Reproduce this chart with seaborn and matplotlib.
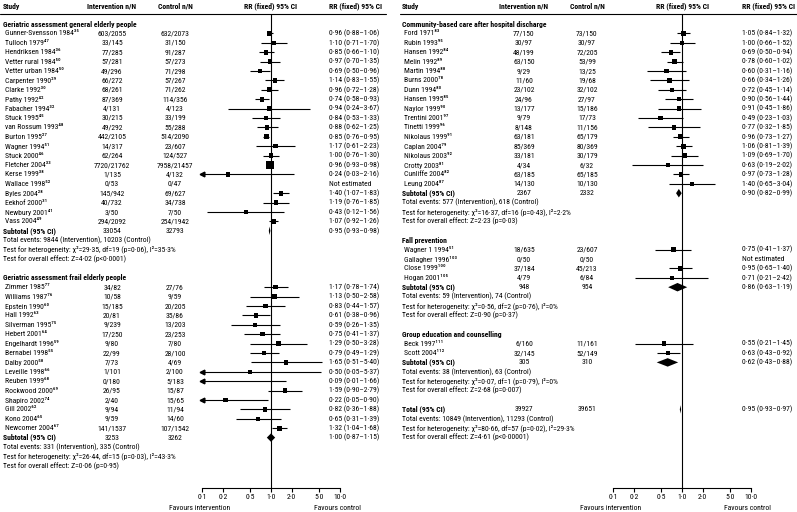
#!/usr/bin/env python3
"""Forest plot: RR (fixed) for complex interventions, two panels."""

import matplotlib

matplotlib.use("Agg")
import matplotlib.pyplot as plt
import matplotlib.transforms as mtransforms
import numpy as np
import pandas as pd
import seaborn as sns
from matplotlib import font_manager
from matplotlib.lines import Line2D
from matplotlib.ticker import NullLocator

NA = np.nan

# ---- Geriatric assessment general elderly people
GEN_NAMES = ["Gunner-Svensson 1984³⁵", "Tulloch 1979⁴⁷", "Hendriksen 1984³⁶", "Vetter rural 1984⁵⁰",
             "Vetter urban 1984⁵⁰", "Carpenter 1990²⁹", "Clarke 1992³⁰", "Pathy 1992⁴²", "Fabacher 1994³²",
             "Stuck 1995⁴⁵", "van Rossum 1993⁴⁸", "Burton 1995²⁷", "Wagner 1994⁵¹", "Stuck 2000⁴⁶",
             "Fletcher 2004³³", "Kerse 1999³⁸", "Wallace 1998⁵²", "Byles 2004²⁸", "Eekhof 2000³¹",
             "Newbury 2001⁴¹", "Vass 2004⁴⁹"]
GEN_INT = ["603/2055", "33/145", "77/285", "57/281", "49/296", "66/272", "68/261", "87/369", "4/131",
           "30/215", "49/292", "442/2105", "14/317", "62/264", "7720/21762", "1/135", "0/53", "145/942",
           "40/732", "3/50", "294/2092"]
GEN_CTL = ["632/2073", "31/150", "91/287", "57/273", "71/298", "57/267", "71/262", "114/356", "4/123",
           "33/199", "55/288", "514/2090", "23/607", "124/527", "7958/21457", "4/132", "0/47", "69/627",
           "34/738", "7/50", "254/1942"]
GEN_RR = [0.96, 1.10, 0.85, 0.97, 0.69, 1.14, 0.96, 0.74, 0.94, 0.84, 0.88, 0.85, 1.17, 1.00, 0.96, 0.24,
          NA, 1.40, 1.19, 0.43, 1.07]
GEN_LO = [0.88, 0.71, 0.66, 0.70, 0.50, 0.83, 0.72, 0.58, 0.24, 0.53, 0.62, 0.76, 0.61, 0.76, 0.93, 0.03,
          NA, 1.07, 0.76, 0.12, 0.92]
GEN_HI = [1.06, 1.70, 1.10, 1.35, 0.96, 1.55, 1.28, 0.93, 3.67, 1.33, 1.25, 0.95, 2.23, 1.30, 0.98, 2.16,
          NA, 1.83, 1.85, 1.56, 1.26]
GEN_SUB = ["33054", "32793", 0.95, 0.93, 0.98]
GEN_NOTES = ["Total events: 9844 (Intervention), 10203 (Control)",
             "Test for heterogeneity: χ²=29·35, df=19 (p=0·06), I²=35·3%",
             "Test for overall effect: Z=4·02 (p<0·0001)"]

# ---- Geriatric assessment frail elderly people
FRAIL_NAMES = ["Zimmer 1985⁷⁷", "Williams 1987⁷⁶", "Epstein 1990⁶⁰", "Hall 1992⁶³", "Silverman 1995⁷⁵",
               "Hebert 2001⁶⁴", "Engelhardt 1996⁵⁹", "Bernabei 1998⁵⁵", "Dalby 2000⁵⁸", "Leveille 1998⁶⁶",
               "Reuben 1999⁶⁸", "Rockwood 2000⁶⁹", "Shapiro 2002⁷⁴", "Gill 2002⁶²", "Kono 2004⁶⁵",
               "Newcomer 2004⁶⁷"]
FRAIL_INT = ["34/82", "10/58", "15/185", "20/81", "9/239", "17/250", "9/80", "22/99", "7/73", "1/101",
             "0/180", "26/95", "2/40", "9/94", "9/59", "141/1537"]
FRAIL_CTL = ["27/76", "9/59", "20/205", "35/86", "13/203", "23/253", "7/80", "28/100", "4/69", "2/100",
             "5/183", "15/87", "15/65", "11/94", "14/60", "107/1542"]
FRAIL_RR = [1.17, 1.13, 0.83, 0.61, 0.59, 0.75, 1.29, 0.79, 1.65, 0.50, 0.09, 1.59, 0.22, 0.82, 0.65, 1.32]
FRAIL_LO = [0.78, 0.50, 0.44, 0.38, 0.26, 0.41, 0.50, 0.49, 0.51, 0.05, 0.01, 0.90, 0.05, 0.36, 0.31, 1.04]
FRAIL_HI = [1.74, 2.58, 1.57, 0.96, 1.35, 1.37, 3.28, 1.29, 5.40, 5.37, 1.66, 2.79, 0.90, 1.88, 1.39, 1.68]
FRAIL_SUB = ["3253", "3262", 1.00, 0.87, 1.15]
FRAIL_NOTES = ["Total events: 331 (Intervention), 335 (Control)",
               "Test for heterogeneity: χ²=26·44, df=15 (p=0·03), I²=43·3%",
               "Test for overall effect: Z=0·06 (p=0·95)"]

# ---- Community-based care after hospital discharge
COMM_NAMES = ["Ford 1971⁸³", "Rubin 1993⁹⁵", "Hansen 1992⁸⁴", "Melin 1992⁸⁹", "Martin 1994⁸⁸",
              "Burns 2000⁷⁸", "Dunn 1994⁸⁰", "Hansen 1995⁸⁵", "Naylor 1999⁹⁰", "Trentini 2001⁹⁷",
              "Tinetti 1999⁹⁶", "Nikolaus 1999⁹¹", "Caplan 2004⁷⁹", "Nikolaus 2003⁹²", "Crotty 2003⁸¹",
              "Cunliffe 2004⁸²", "Leung 2004⁸⁷"]
COMM_INT = ["77/150", "30/97", "48/199", "63/150", "9/29", "11/60", "23/102", "24/96", "13/177", "9/79",
            "8/148", "63/181", "85/369", "33/181", "4/34", "63/185", "14/130"]
COMM_CTL = ["73/150", "30/97", "72/205", "53/99", "13/25", "19/68", "32/102", "27/97", "15/186", "17/73",
            "11/156", "65/179", "80/369", "30/179", "6/32", "65/185", "10/130"]
COMM_RR = [1.05, 1.00, 0.69, 0.78, 0.60, 0.66, 0.72, 0.90, 0.91, 0.49, 0.77, 0.96, 1.06, 1.09, 0.63, 0.97, 1.40]
COMM_LO = [0.84, 0.66, 0.50, 0.60, 0.31, 0.34, 0.45, 0.56, 0.45, 0.23, 0.32, 0.73, 0.81, 0.69, 0.19, 0.73, 0.65]
COMM_HI = [1.32, 1.52, 0.94, 1.02, 1.16, 1.26, 1.14, 1.44, 1.86, 1.03, 1.85, 1.27, 1.39, 1.70, 2.02, 1.28, 3.04]
COMM_SUB = ["2367", "2332", 0.90, 0.82, 0.99]
COMM_NOTES = ["Total events: 577 (Intervention), 618 (Control)",
              "Test for heterogeneity: χ²=16·37, df=16 (p=0·43), I²=2·2%",
              "Test for overall effect: Z=2·23 (p=0·03)"]

# ---- Fall prevention
FALL_NAMES = ["Wagner 1 1994⁵¹", "Gallagher 1996¹⁰³", "Close 1999¹⁰⁰", "Hogan 2001¹⁰⁵"]
FALL_INT = ["18/635", "0/50", "37/184", "4/79"]
FALL_CTL = ["23/607", "0/50", "45/213", "6/84"]
FALL_RR = [0.75, NA, 0.95, 0.71]
FALL_LO = [0.41, NA, 0.65, 0.21]
FALL_HI = [1.37, NA, 1.40, 2.42]
FALL_SUB = ["948", "954", 0.86, 0.63, 1.19]
FALL_NOTES = ["Total events: 59 (Intervention), 74 (Control)",
              "Test for heterogeneity: χ²=0·56, df=2 (p=0·76), I²=0%",
              "Test for overall effect: Z=0·90 (p=0·37)"]

# ---- Group education and counselling
EDU_NAMES = ["Beck 1997¹¹¹", "Scott 2004¹¹²"]
EDU_INT = ["6/160", "32/145"]
EDU_CTL = ["11/161", "52/149"]
EDU_RR = [0.55, 0.63]
EDU_LO = [0.21, 0.43]
EDU_HI = [1.45, 0.92]
EDU_SUB = ["305", "310", 0.62, 0.43, 0.88]
EDU_NOTES = ["Total events: 38 (Intervention), 63 (Control)",
             "Test for heterogeneity: χ²=0·07, df=1 (p=0·79), I²=0%",
             "Test for overall effect: Z=2·68 (p=0·007)"]

TOTAL = ["39927", "39651", 0.95, 0.93, 0.97]
TOTAL_NOTES = ["Total events: 10849 (Intervention), 11293 (Control)",
               "Test for heterogeneity: χ²=80·66, df=57 (p=0·02), I²=29·3%",
               "Test for overall effect: Z=4·61 (p<0·00001)"]

TICKS = [0.1, 0.2, 0.5, 1, 2, 5, 10]
TICK_LABELS = ["0·1", "0·2", "0·5", "1·0", "2·0", "5·0", "10·0"]

# ---- layout (pixels)
W, H = 797, 512
ROW0, STEP = 24.0, 9.4
AX_TOP, AX_BOT = 14, 488
LEFT = dict(x0=3, name=5, int=112, ctl=175, one=271, rr=329, line=(0, 386))
RIGHT = dict(x0=402, name=404, int=524, ctl=587, one=682, rr=742, line=(400, 797))


def pick_font():
    # a condensed face is closest to the original; fall back to a smaller regular one
    entries = font_manager.fontManager.ttflist
    names = {f.name for f in entries}
    for name, size in [("Liberation Sans Narrow", 5.7), ("Roboto Condensed", 5.5),
                       ("Noto Sans Condensed", 5.4), ("Open Sans Condensed", 5.4)]:
        if name in names:
            return name, "normal", size
    for f in entries:
        if f.name == "Noto Sans" and f.stretch == "condensed":
            return "Noto Sans", "condensed", 5.4
    return "Liberation Sans", "normal", 5.3


FONT, STRETCH, FS = pick_font()

sns.set_theme(style="white")
plt.rcParams["font.family"] = [FONT, "DejaVu Sans"]
plt.rcParams["font.stretch"] = STRETCH
plt.rcParams.update({"text.color": "black", "xtick.color": "black", "axes.edgecolor": "black"})

fig = plt.figure(figsize=(W / 100, H / 100), dpi=100)


def fmt(v):
    return f"{v:.2f}".replace(".", "·")


def rr_text(v, lo, hi):
    if np.isnan(v):
        return "Not estimated"
    return f"{fmt(v)} ({fmt(lo)}–{fmt(hi)})"


def px_row(p):
    return (p - ROW0) / STEP


def events(s):
    return int(s.split("/")[0])


def make_panel(pos):
    ax = fig.add_axes([(pos["one"] - 69) / W, 1 - AX_BOT / H, 138 / W, (AX_BOT - AX_TOP) / H])
    ax.set_xscale("log")
    for side in ("left", "right", "top"):
        ax.spines[side].set_visible(False)
    ax.spines["bottom"].set_linewidth(0.8)
    ax.axvline(1, color="black", lw=0.8, zorder=1)
    ax.set_facecolor("none")

    def txt(x, y, s, **kw):
        tr = mtransforms.blended_transform_factory(fig.transFigure, ax.transData)
        ax.text(x / W, y, s, transform=tr, fontsize=FS, va="center", clip_on=False, **kw)

    # header
    fy = 1 - 6 / H
    fig.text(pos["x0"] / W, fy, "Study", fontsize=FS, fontweight="bold", va="center")
    fig.text(pos["int"] / W, fy, "Intervention n/N", fontsize=FS, fontweight="bold", va="center", ha="center")
    fig.text(pos["ctl"] / W, fy, "Control n/N", fontsize=FS, fontweight="bold", va="center", ha="center")
    fig.text(pos["one"] / W, fy, "RR (fixed) 95% CI", fontsize=FS, fontweight="bold", va="center", ha="center")
    fig.text(pos["rr"] / W, fy, "RR (fixed) 95% CI", fontsize=FS, fontweight="bold", va="center")
    x0, x1 = pos["line"]
    fig.add_artist(Line2D([x0 / W, x1 / W], [1 - AX_TOP / H] * 2, color="black", lw=0.8))
    fig.text((pos["one"] - 71) / W, 1 - 508 / H, "Favours intervention", fontsize=FS, ha="center", va="center")
    fig.text((pos["one"] + 66) / W, 1 - 508 / H, "Favours control", fontsize=FS, ha="center", va="center")
    return ax, txt


def diamond(ax, row, est, lo, hi, h=0.45):
    ax.fill([lo, est, hi, est], [row, row - h, row, row + h], color="black", lw=0, zorder=4)


def summary(ax, txt, pos, row, label, sub, notes):
    txt(pos["x0"], row, label, fontweight="bold")
    txt(pos["int"], row, sub[0], ha="center")
    txt(pos["ctl"], row, sub[1], ha="center")
    txt(pos["rr"], row, rr_text(*sub[2:]))
    diamond(ax, row, *sub[2:])
    for i, note in enumerate(notes):
        txt(pos["x0"], row + 1 + i, note)


def group(ax, txt, pos, row, title, names, n_int, n_ctl, rr, lo, hi, sub, notes):
    txt(pos["x0"], row, title, fontweight="bold")
    rows = row + 1 + np.arange(len(names))
    for r, name, a, b, v, l, h in zip(rows, names, n_int, n_ctl, rr, lo, hi):
        txt(pos["name"], r, name)
        txt(pos["int"], r, a, ha="center")
        txt(pos["ctl"], r, b, ha="center")
        txt(pos["rr"], r, rr_text(v, l, h))
    df = pd.DataFrame({
        "rr": rr, "lo": lo, "hi": hi, "row": rows,
        "ev": [events(a) + events(b) for a, b in zip(n_int, n_ctl)],
    }).dropna()
    # square side grows with the number of events (study weight)
    side = (4.3 + 0.03 * np.sqrt(df["ev"].to_numpy())) * 0.72
    ax.hlines(df["row"], df["lo"].clip(lower=0.1), df["hi"].clip(upper=10), color="black", lw=0.8, zorder=2)
    sns.scatterplot(data=df, x="rr", y="row", marker="s", s=side ** 2, color="black",
                    linewidth=0, ax=ax, legend=False, zorder=3)
    cut = df[df["lo"] < 0.1]
    ax.plot(np.full(len(cut), 0.1), cut["row"], "<", ms=3.4, color="black", clip_on=False, zorder=3)
    srow = rows[-1] + 1
    summary(ax, txt, pos, srow, "Subtotal (95% CI)", sub, notes)
    return srow + 5


def finish(ax):
    ax.set_xlim(0.1, 10)
    ax.set_ylim(px_row(AX_BOT), px_row(AX_TOP))
    ax.set_xticks(TICKS)
    ax.set_xticklabels(TICK_LABELS)
    ax.xaxis.set_minor_locator(NullLocator())
    ax.set_yticks([])
    ax.set_xlabel("")
    ax.set_ylabel("")
    ax.tick_params(axis="x", bottom=True, direction="out", length=3, width=0.8, labelsize=FS, pad=1.5)


ax_l, txt_l = make_panel(LEFT)
r = group(ax_l, txt_l, LEFT, 0, "Geriatric assessment general elderly people",
          GEN_NAMES, GEN_INT, GEN_CTL, GEN_RR, GEN_LO, GEN_HI, GEN_SUB, GEN_NOTES)
group(ax_l, txt_l, LEFT, r, "Geriatric assessment frail elderly people",
      FRAIL_NAMES, FRAIL_INT, FRAIL_CTL, FRAIL_RR, FRAIL_LO, FRAIL_HI, FRAIL_SUB, FRAIL_NOTES)
finish(ax_l)

ax_r, txt_r = make_panel(RIGHT)
r = group(ax_r, txt_r, RIGHT, 0, "Community-based care after hospital discharge",
          COMM_NAMES, COMM_INT, COMM_CTL, COMM_RR, COMM_LO, COMM_HI, COMM_SUB, COMM_NOTES)
r = group(ax_r, txt_r, RIGHT, r, "Fall prevention",
          FALL_NAMES, FALL_INT, FALL_CTL, FALL_RR, FALL_LO, FALL_HI, FALL_SUB, FALL_NOTES)
r = group(ax_r, txt_r, RIGHT, r, "Group education and counselling",
          EDU_NAMES, EDU_INT, EDU_CTL, EDU_RR, EDU_LO, EDU_HI, EDU_SUB, EDU_NOTES)
summary(ax_r, txt_r, RIGHT, r, "Total (95% CI)", TOTAL, TOTAL_NOTES)
finish(ax_r)

fig.savefig("out.png", dpi=100)
